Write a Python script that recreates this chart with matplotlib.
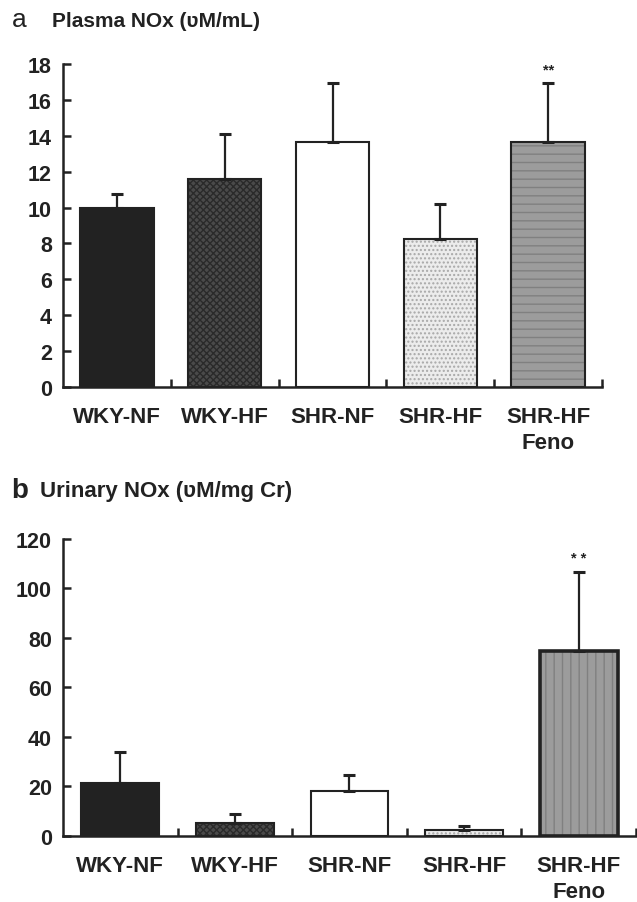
import numpy as np
import matplotlib
matplotlib.use('Agg')
import matplotlib.pyplot as plt

plt.rcParams['font.family'] = ['Liberation Sans', 'DejaVu Sans']
plt.rcParams['hatch.linewidth'] = 1.0

# data
groups = ['WKY-NF', 'WKY-HF', 'SHR-NF', 'SHR-HF', 'SHR-HF\nFeno']
plasma_mean = [10.0, 11.6, 13.65, 8.25, 13.65]
plasma_sem = [0.77, 2.5, 3.3, 1.97, 3.3]
urinary_mean = [21.4, 5.3, 18.0, 2.5, 74.8]
urinary_sem = [12.5, 3.6, 6.5, 1.5, 31.8]
plasma_ticks = [0, 2, 4, 6, 8, 10, 12, 14, 16, 18]
urinary_ticks = [0, 20, 40, 60, 80, 100, 120]
sig_label = '**'
sig_group = 4

INK = '#222222'

fig = plt.figure(figsize=(6.37, 9.03), dpi=100)


def draw_panel(ax, means, sems, ticks, styles, star_y, star_text):
    x = np.arange(len(groups))
    w = 0.68
    for i, (m, st) in enumerate(zip(means, styles)):
        ax.bar(x[i], m, w, color=st['face'], edgecolor='none', zorder=2)
        if st['hatch']:
            ax.bar(x[i], m, w, color='none', edgecolor=st['hcolor'],
                   hatch=st['hatch'], linewidth=0, zorder=3)
        ax.bar(x[i], m, w, fill=False, edgecolor=INK,
               linewidth=st['lw'], zorder=4)
    ax.errorbar(x, means, yerr=[np.zeros(len(means)), sems], fmt='none',
                ecolor=INK, elinewidth=1.6, capsize=4, capthick=2.2, zorder=5)
    ax.text(x[sig_group], star_y, star_text, ha='center', va='center',
            fontsize=10.5, fontweight='bold', color=INK)

    ax.set_xlim(-0.5, len(groups) - 0.5)
    ax.set_ylim(ticks[0], ticks[-1])
    ax.set_yticks(ticks)
    ax.set_xticks(x)
    ax.set_xticklabels(groups, fontsize=16, fontweight='bold',
                       linespacing=1.3, color=INK)
    ax.set_xticks(np.arange(len(groups)) + 0.5, minor=True)
    ax.tick_params(axis='x', which='major', length=0, pad=14)
    ax.tick_params(axis='x', which='minor', direction='in', length=6,
                   width=1.8, color=INK)
    ax.tick_params(axis='y', direction='in', length=6, width=1.8,
                   color=INK, pad=8, labelsize=15.5, labelcolor=INK)
    for lab in ax.get_yticklabels():
        lab.set_fontweight('bold')
    for s in ['top', 'right']:
        ax.spines[s].set_visible(False)
    for s in ['left', 'bottom']:
        ax.spines[s].set_linewidth(1.8)
        ax.spines[s].set_color(INK)


styles_a = [
    dict(face='#222222', hatch=None, hcolor=None, lw=1.5),
    dict(face='#4a4a4a', hatch='xxxxx', hcolor='#2a2a2a', lw=1.5),
    dict(face='white', hatch=None, hcolor=None, lw=1.5),
    dict(face='#ececec', hatch='....', hcolor='#a8a8a8', lw=1.5),
    dict(face='#9c9c9c', hatch='--', hcolor='#808080', lw=1.5),
]
styles_b = [
    dict(face='#222222', hatch=None, hcolor=None, lw=1.5),
    dict(face='#4a4a4a', hatch='xxxxx', hcolor='#2a2a2a', lw=1.5),
    dict(face='white', hatch=None, hcolor=None, lw=1.5),
    dict(face='#ececec', hatch='....', hcolor='#a8a8a8', lw=1.5),
    dict(face='#9c9c9c', hatch='||', hcolor='#808080', lw=2.6),
]

ax_a = fig.add_axes([0.0989, 0.5703, 0.8462, 0.3577])
draw_panel(ax_a, plasma_mean, plasma_sem, plasma_ticks, styles_a, 17.7, sig_label)

ax_b = fig.add_axes([0.0989, 0.0731, 0.8995, 0.3289])
draw_panel(ax_b, urinary_mean, urinary_sem, urinary_ticks, styles_b, 112.5, '* *')

# panel headings
fig.text(12 / 637, 1 - 27 / 903, 'a', fontsize=19, color=INK)
fig.text(52 / 637, 1 - 27 / 903, 'Plasma NOx (\u028bM/mL)', fontsize=15,
         fontweight='bold', color=INK)
fig.text(11 / 637, 1 - 498 / 903, 'b', fontsize=20, fontweight='bold', color=INK)
fig.text(40 / 637, 1 - 497 / 903, 'Urinary NOx (\u028bM/mg Cr)', fontsize=16,
         fontweight='bold', color=INK)

fig.savefig('out.png', dpi=100)
